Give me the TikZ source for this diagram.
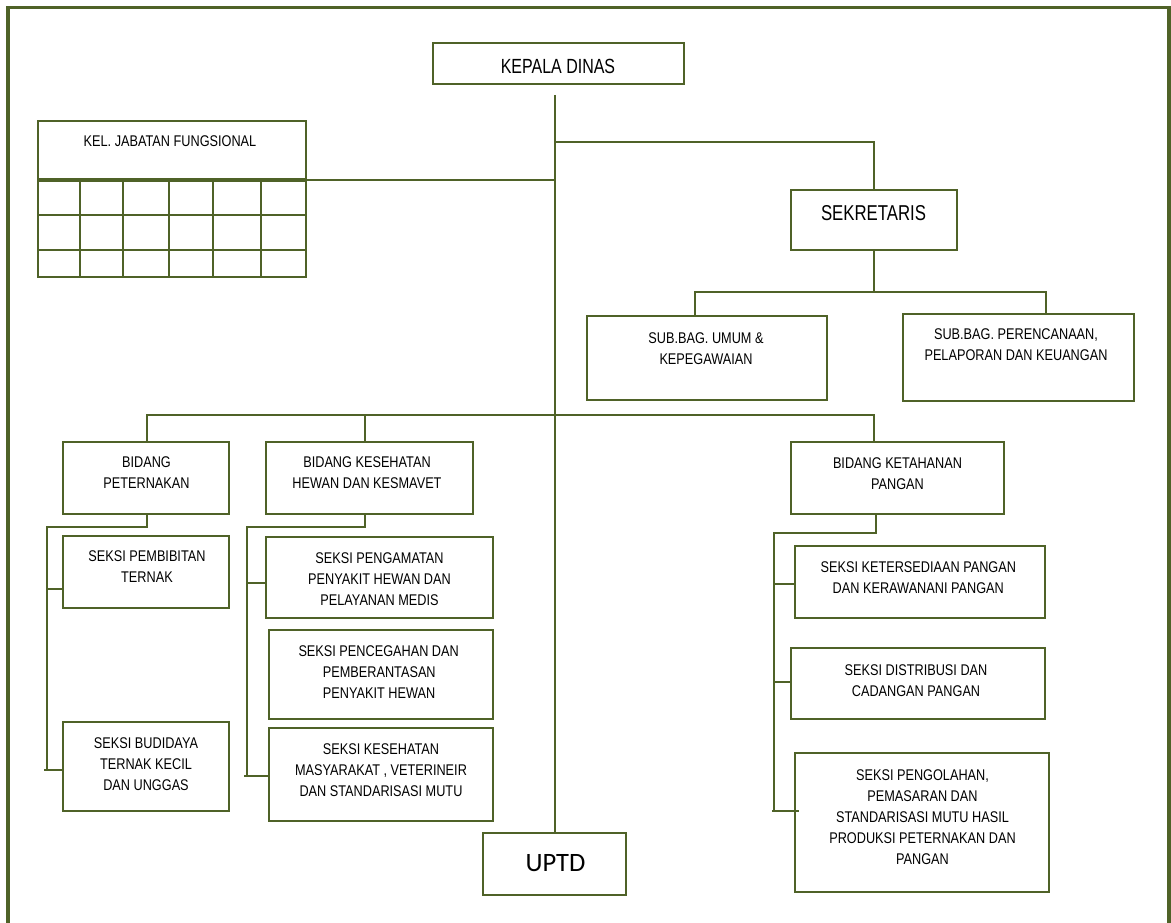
\documentclass[tikz,border=0pt]{standalone}
\usepackage{fontspec}
\setmainfont{Liberation Sans}
\newfontfamily\narrowfont[FakeStretch=0.82]{Liberation Sans}
\newfontfamily\bigfont[FakeStretch=0.78]{Liberation Sans}
\newfontfamily\uptdfont{Carlito}
\definecolor{olv}{HTML}{4F6228}
\begin{document}
\begin{tikzpicture}[x=1pt,y=-1pt,
  box/.style={draw=olv, line width=1.8pt, inner sep=0pt, fill=none},
  conn/.style={draw=olv, line width=1.8pt},
  txt/.style={inner sep=0pt, anchor=north, align=center, text=black,
    font=\narrowfont\fontsize{15.5}{21}\selectfont},
  bigtxt/.style={inner sep=0pt, anchor=north, text=black}
]
\useasboundingbox (0,0) rectangle (1171,923);
% frame
\draw[olv, line width=3.5pt] (8,930) -- (8,7.5) -- (1169,7.5) -- (1169,930);

% boxes
\node[box, minimum width=251pt, minimum height=41pt] (kd) at (558.5,63.5) {};
\node[box, minimum width=268pt, minimum height=58pt] (kel) at (172,150) {};
\node[box, minimum width=268pt, minimum height=96pt] (grid) at (172,229) {};
\node[box, minimum width=166pt, minimum height=60pt] (sek) at (874,220) {};
\node[box, minimum width=240pt, minimum height=84pt] (umum) at (707,358) {};
\node[box, minimum width=231pt, minimum height=87pt] (pr) at (1018.5,357.5) {};
\node[box, minimum width=166pt, minimum height=72pt] (bpet) at (146,478) {};
\node[box, minimum width=207pt, minimum height=72pt] (bkes) at (369.5,478) {};
\node[box, minimum width=213pt, minimum height=72pt] (bket) at (897.5,478) {};
\node[box, minimum width=166pt, minimum height=72pt] (pemb) at (146,572) {};
\node[box, minimum width=166pt, minimum height=89pt] (budi) at (146,766.5) {};
\node[box, minimum width=227pt, minimum height=81pt] (pengam) at (379.5,577.5) {};
\node[box, minimum width=224pt, minimum height=89pt] (pence) at (381,674.5) {};
\node[box, minimum width=224pt, minimum height=93pt] (kesmas) at (381,774.5) {};
\node[box, minimum width=250pt, minimum height=72pt] (keter) at (920,582) {};
\node[box, minimum width=254pt, minimum height=71pt] (distr) at (918,683.5) {};
\node[box, minimum width=254pt, minimum height=139pt] (pengol) at (922,822.5) {};
\node[box, minimum width=143pt, minimum height=62pt] (uptd) at (554.5,864) {};

% grid lines
\foreach \gx in {80,123,169,213,261} \draw[olv, line width=1.8pt] (\gx,181) -- (\gx,277);
\foreach \gy in {215,250} \draw[olv, line width=1.8pt] (38,\gy) -- (306,\gy);

% texts
\node[bigtxt, font=\bigfont\fontsize{20.5}{24}\selectfont] (tkd) at (558,59.3) {KEPALA DINAS};
\node[bigtxt, font=\bigfont\fontsize{21.5}{25}\selectfont] (tsek) at (873.5,205) {SEKRETARIS};
\node[bigtxt, font=\uptdfont\fontsize{26.5}{30}\selectfont] (tuptd) at (555.5,854) {UPTD};
\node[txt] (tkel) at (170,135) {KEL. JABATAN FUNGSIONAL};
\node[txt] (tumum) at (706,332.7) {SUB.BAG. UMUM \&\\KEPEGAWAIAN};
\node[txt] (tpr) at (1016,328.3) {SUB.BAG. PERENCANAAN,\\PELAPORAN DAN KEUANGAN};
\node[txt] (tbpet) at (146.5,456.7) {BIDANG\\PETERNAKAN};
\node[txt] (tbkes) at (367,456.7) {BIDANG KESEHATAN\\HEWAN DAN KESMAVET};
\node[txt] (tbket) at (897.5,457.7) {BIDANG KETAHANAN\\PANGAN};
\node[txt] (tpemb) at (147,550.7) {SEKSI PEMBIBITAN\\TERNAK};
\node[txt] (tbudi) at (146,737.3) {SEKSI BUDIDAYA\\TERNAK KECIL\\DAN UNGGAS};
\node[txt] (tpengam) at (379.5,552.7) {SEKSI PENGAMATAN\\PENYAKIT HEWAN DAN\\PELAYANAN MEDIS};
\node[txt, anchor=north west, align=left] (tpence) at (322.7,645.7) {\hspace*{-24.4pt}SEKSI PENCEGAHAN DAN\\PEMBERANTASAN\\PENYAKIT HEWAN};
\node[txt] (tkesmas) at (381,743.3) {SEKSI KESEHATAN\\MASYARAKAT , VETERINEIR\\DAN STANDARISASI MUTU};
\node[txt] (tketer) at (918.3,561.7) {SEKSI KETERSEDIAAN PANGAN\\DAN KERAWANANI PANGAN};
\node[txt] (tdistr) at (916,664.3) {SEKSI DISTRIBUSI DAN\\CADANGAN PANGAN};
\node[txt] (tpengol) at (922.5,769) {SEKSI PENGOLAHAN,\\PEMASARAN DAN\\STANDARISASI MUTU HASIL\\PRODUKSI PETERNAKAN DAN\\PANGAN};

% connectors
\coordinate (ttop) at (555,95);
\draw[conn] (ttop) -- (ttop |- uptd.north);
\coordinate (jsek) at (555,142);
\draw[conn] (jsek) -| (sek.north);
\draw[conn] (grid.north east) -- (grid.north east -| ttop);

\coordinate (sj) at (874,292);
\coordinate (sl) at (695,292);
\coordinate (sr) at (1046,292);
\draw[conn] (sek.south) -- (sj);
\draw[conn] (sl |- umum.north) -- (sl) -- (sr) -- (sr |- pr.north);

\coordinate (bl) at (147,415);
\coordinate (bm) at (365,415);
\coordinate (br) at (874,415);
\draw[conn] (bl |- bpet.north) -- (bl) -- (br) -- (br |- bket.north);
\draw[conn] (bm) -- (bm |- bkes.north);

\coordinate (pa) at (147,527);
\coordinate (pb) at (47,527);
\draw[conn] (pa |- bpet.south) -- (pa) -- (pb) -- (47,771);
\draw[conn] (47,589) -- (pemb.west |- 0,589);
\draw[conn] (44,770) -- (budi.west |- 0,770);

\coordinate (ka) at (365,527);
\coordinate (kb) at (247,527);
\draw[conn] (ka |- bkes.south) -- (ka) -- (kb) -- (247,776);
\draw[conn] (247,583) -- (pengam.west |- 0,583);
\draw[conn] (244,776) -- (kesmas.west |- 0,776);

\coordinate (ta) at (876,533);
\coordinate (tb) at (774,533);
\draw[conn] (ta |- bket.south) -- (ta) -- (tb) -- (774,811);
\draw[conn] (774,584) -- (keter.west |- 0,584);
\draw[conn] (774,682) -- (distr.west |- 0,682);
\draw[conn] (772,811) -- (799,811);
\end{tikzpicture}
\end{document}
